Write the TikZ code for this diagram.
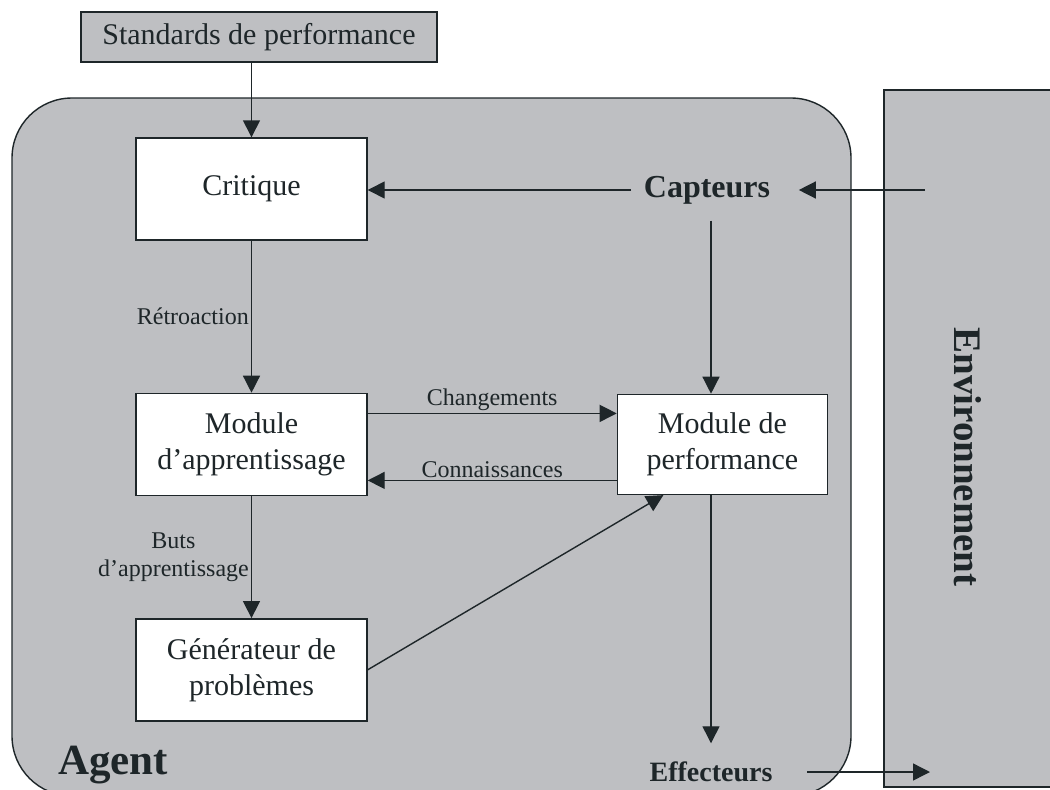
\documentclass[tikz,border=0pt]{standalone}
\usepackage{fontspec}
\setmainfont{Liberation Serif}
\usepackage{tikz}
\usetikzlibrary{arrows.meta,positioning}
\definecolor{AgentGray}{HTML}{BEBFC2}
\definecolor{AgentInk}{HTML}{1E2629}

\begin{document}
\begin{tikzpicture}[
  x=1pt, y=-1pt,
  line width=1.4pt,
  every node/.style={font=\fontsize{30}{36}\selectfont, text=AgentInk},
  module/.style={draw=AgentInk, fill=white, minimum width=231pt, minimum height=102pt, align=center, inner sep=2pt},
  sensor/.style={font=\fontsize{#1}{36}\selectfont\bfseries, inner ysep=2pt, inner xsep=12pt},
  flowlabel/.style={font=\fontsize{24}{28}\selectfont, inner sep=2pt},
  fleche/.style={-{Triangle[length=17pt,width=17pt]}, color=AgentInk}
]
\useasboundingbox (0,0) rectangle (1050,790);

% agent and environment
\draw[draw=AgentInk, fill=AgentGray, rounded corners=60pt] (12,98) rectangle (851,796);
\draw[draw=AgentInk, fill=AgentGray] (884,90) rectangle (1062,787);
\node[font=\fontsize{43}{46}\selectfont\bfseries, anchor=base west] (agentlbl) at (54,774) {Agent};
\node[font=\fontsize{39}{42}\selectfont\bfseries, rotate=-90] (envlbl) at (968,457) {Environnement};

\node[draw=AgentInk, fill=AgentGray, minimum width=356pt, minimum height=50pt] (std) at (259,37) {Standards de performance};

\node[module] (crit) at (251.5,189) {Critique};
\node[module, below=152pt of crit] (app) {Module\\d'apprentissage};
\node[module, below=122pt of app] (gen) {Générateur de\\problèmes};
\node[module, minimum width=210pt, minimum height=100pt, right=249pt of app] (perf) {Module de\\performance};

\node[sensor=32] (capt) at (707,190) {Capteurs};
\node[sensor=28] (effe) at (711,772) {Effecteurs};
\coordinate (envin) at (925,190);
\coordinate (envout) at (930,772);

\draw[fleche] (std.south -| crit.north) -- (crit.north);
\draw[fleche, shorten >=16pt] (envin) -- (capt.east);
\draw[fleche] (capt.west) -- (capt.west -| crit.east);
\draw[fleche, shorten <=14pt] ([xshift=4pt]capt.south) -- ([xshift=4pt]capt.south |- perf.north);
\draw[fleche] (crit) -- (app) node[flowlabel, midway, left] {Rétroaction};
\draw[fleche] (app) -- (gen) node[flowlabel, midway, left, align=center] {Buts\\d'apprentissage};
\draw[fleche] ([yshift=31pt]app.east) -- ([yshift=31pt]app.east -| perf.west) node[flowlabel, midway, above] {Changements};
\draw[fleche] ([yshift=-36pt]perf.west) -- ([yshift=-36pt]perf.west -| app.east) node[flowlabel, midway, above] {Connaissances};
\draw[fleche] (gen.east) -- ([xshift=-59pt]perf.south);
\draw[fleche, shorten >=16pt] (perf.south -| effe.north) -- (effe.north);
\draw[fleche, shorten <=22pt] (effe.east) -- (envout);
\end{tikzpicture}
\end{document}
